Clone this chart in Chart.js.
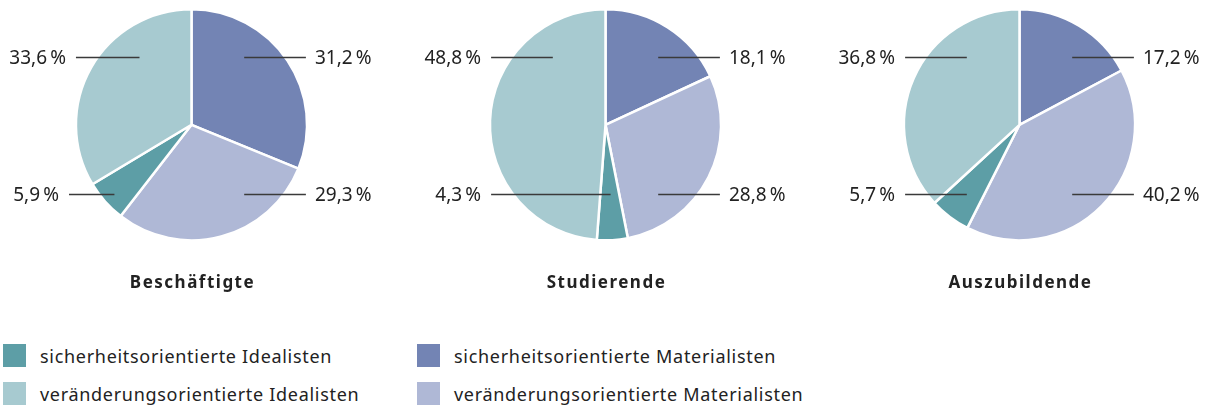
<!DOCTYPE html>
<html>
<head>
    <meta charset="utf-8">
    <title>Idealisten und Materialisten</title>
    <script src="https://cdn.jsdelivr.net/npm/chart.js"></script>
    <style>
        body {
            margin: 0;
            background-color: white;
            font-family: "Noto Sans", sans-serif;
            color: #222;
            width: 1209px;
            height: 407px;
            overflow: hidden;
        }

        .charts {
            display: flex;
            gap: 35px;
            margin-left: 2px;
        }

        .chart-box {
            width: 380px;
            height: 310px;
            position: relative;
        }

        .legend {
            display: grid;
            grid-template-columns: 414px 400px;
            row-gap: 15px;
            margin-left: 3px;
            margin-top: 34px;
        }

        .legend-item {
            display: flex;
            align-items: center;
            font-size: 18px;
            letter-spacing: 0.7px;
            height: 23px;
            font-variant-ligatures: none;
        }

        .legend-swatch {
            width: 23px;
            height: 23px;
            margin-right: 14px;
        }
    </style>
</head>
<body>
    <div class="charts">
        <div class="chart-box"><canvas id="chart0"></canvas></div>
        <div class="chart-box"><canvas id="chart1"></canvas></div>
        <div class="chart-box"><canvas id="chart2"></canvas></div>
    </div>
    <div class="legend" id="legend"></div>

    <script>
        // Slices, clockwise from 12 o'clock
        const categories = [
            'sicherheitsorientierte Materialisten',
            'veränderungsorientierte Materialisten',
            'sicherheitsorientierte Idealisten',
            'veränderungsorientierte Idealisten'
        ];
        const colors = ['#7384b4', '#afb8d6', '#5d9ea6', '#a7cad0'];

        const groups = ['Beschäftigte', 'Studierende', 'Auszubildende'];
        const beschaeftigte = [31.2, 29.3, 5.9, 33.6];
        const studierende = [18.1, 28.8, 4.3, 48.8];
        const auszubildende = [17.2, 40.2, 5.7, 36.8];
        const seriesValues = [beschaeftigte, studierende, auszubildende];

        // legend order (row by row)
        const legendOrder = [2, 0, 3, 1];

        // leader lines per slice: side, vertical offset and x span, in units of the radius
        const leaderLayouts = [
            [
                { side: 'right', dy: -0.59, x0: 0.456, x1: 0.99 },
                { side: 'right', dy: 0.6, x0: 0.456, x1: 0.99 },
                { side: 'left', dy: 0.6, x0: -1.06, x1: -0.667 },
                { side: 'left', dy: -0.59, x0: -1.0, x1: -0.45 }
            ],
            [
                { side: 'right', dy: -0.59, x0: 0.456, x1: 0.99 },
                { side: 'right', dy: 0.6, x0: 0.456, x1: 0.99 },
                { side: 'left', dy: 0.6, x0: -0.99, x1: 0.044 },
                { side: 'left', dy: -0.59, x0: -0.99, x1: -0.456 }
            ],
            [
                { side: 'right', dy: -0.59, x0: 0.456, x1: 0.99 },
                { side: 'right', dy: 0.6, x0: 0.456, x1: 0.99 },
                { side: 'left', dy: 0.6, x0: -0.99, x1: -0.456 },
                { side: 'left', dy: -0.59, x0: -0.99, x1: -0.456 }
            ]
        ];

        function formatPercent(v) {
            return v.toFixed(1).replace('.', ',') + '\u202F%';
        }

        // draws the horizontal leader lines, value labels and the group title
        const leaderLabels = {
            id: 'leaderLabels',
            afterDatasetsDraw(chart, args, opts) {
                const meta = chart.getDatasetMeta(0);
                const ctx = chart.ctx;
                const values = chart.data.datasets[0].data;
                ctx.save();
                ctx.font = '19px "Noto Sans", sans-serif';
                ctx.textBaseline = 'middle';
                meta.data.forEach((arc, i) => {
                    const cx = arc.x, cy = arc.y, r = arc.outerRadius;
                    const l = opts.layout[i];
                    const y = Math.round(cy + l.dy * r) + 0.5;
                    const xa = cx + l.x0 * r, xb = cx + l.x1 * r;
                    ctx.strokeStyle = '#3a3a3a';
                    ctx.lineWidth = 1.5;
                    ctx.beginPath();
                    ctx.moveTo(xa, y);
                    ctx.lineTo(xb, y);
                    ctx.stroke();
                    ctx.fillStyle = '#222';
                    if (l.side === 'right') {
                        ctx.textAlign = 'left';
                        ctx.fillText(formatPercent(values[i]), xb + 9, y + 1);
                    } else {
                        ctx.textAlign = 'right';
                        ctx.fillText(formatPercent(values[i]), xa - 10, y + 1);
                    }
                });

                // title under the pie, slightly spaced out
                const arc = meta.data[0];
                ctx.font = 'bold 17px "Noto Sans", sans-serif';
                ctx.letterSpacing = '1.5px';
                ctx.textAlign = 'center';
                ctx.fillStyle = '#222';
                ctx.fillText(opts.title, arc.x + 1, arc.y + arc.outerRadius + 43);
                ctx.restore();
            }
        };

        seriesValues.forEach((values, k) => {
            new Chart(document.getElementById('chart' + k), {
                type: 'pie',
                data: {
                    labels: categories,
                    datasets: [{
                        data: values,
                        backgroundColor: colors,
                        borderColor: '#ffffff',
                        borderWidth: 2.5
                    }]
                },
                options: {
                    responsive: true,
                    maintainAspectRatio: false,
                    animation: false,
                    layout: { padding: { top: 8, bottom: 68.4 } },
                    plugins: {
                        legend: { display: false },
                        tooltip: { enabled: false },
                        leaderLabels: { layout: leaderLayouts[k], title: groups[k] }
                    }
                },
                plugins: [leaderLabels]
            });
        });

        // legend below the charts
        const legend = document.getElementById('legend');
        legendOrder.forEach(i => {
            const item = document.createElement('div');
            item.className = 'legend-item';
            const sw = document.createElement('span');
            sw.className = 'legend-swatch';
            sw.style.backgroundColor = colors[i];
            item.appendChild(sw);
            item.appendChild(document.createTextNode(categories[i]));
            legend.appendChild(item);
        });
    </script>
</body>
</html>
